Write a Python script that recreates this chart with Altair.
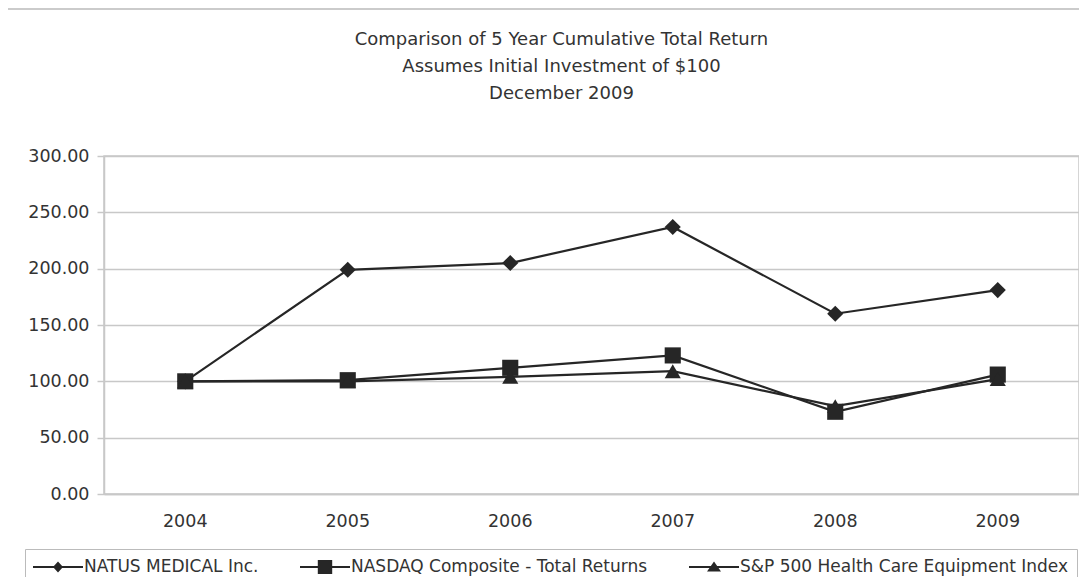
import altair as alt
import pandas as pd

years = ["2004", "2005", "2006", "2007", "2008", "2009"]
series_names = ["NATUS MEDICAL Inc.", "NASDAQ Composite - Total Returns", "S&P 500 Health Care Equipment Index"]
natus = [100, 199, 205, 237, 160, 181]
nasdaq = [100, 101, 112, 123, 73, 106]
sp500 = [100, 100, 104, 109, 78, 102]
y_ticks = [0, 50, 100, 150, 200, 250, 300]
title_lines = ["Comparison of 5 Year Cumulative Total Return",
               "Assumes Initial Investment of $100",
               "December 2009"]

rows = []
for name, vals in zip(series_names, [natus, nasdaq, sp500]):
    for yr, v in zip(years, vals):
        rows.append({"year": yr, "value": v, "series": name})
df = pd.DataFrame(rows)

FONT = "DejaVu Sans"
TXT = "#333333"
INK = "#262626"
GRID = "#c8c8c8"

x_enc = alt.X("year:O", bandPosition=0.5,
              scale=alt.Scale(type="band", paddingInner=0, paddingOuter=0),
              axis=alt.Axis(title=None, labelAngle=0, labelFont=FONT, labelFontSize=17.5,
                            labelColor=TXT, ticks=False, tickSize=0, grid=False,
                            domainColor=GRID, domainWidth=1.5, labelPadding=18))
y_enc = alt.Y("value:Q", scale=alt.Scale(domain=[0, 300], nice=False),
              axis=alt.Axis(title=None, values=y_ticks, format=".2f", labelFont=FONT,
                            labelFontSize=17.5, labelColor=TXT, tickSize=7, tickColor=GRID,
                            tickWidth=1.5, domainColor=GRID, domainWidth=1.5,
                            gridColor=GRID, gridWidth=1.5, labelPadding=8))

base = alt.Chart(df)

lines = base.mark_line(color=INK, strokeWidth=2.2).encode(x=x_enc, y=y_enc, detail="series:N")

points = base.mark_point(filled=True, color=INK, opacity=1, size=260).encode(
    x=x_enc, y=y_enc,
    shape=alt.Shape("series:N", scale=alt.Scale(domain=series_names,
                                                range=["diamond", "square", "triangle-up"]),
                    legend=None))

legend_paths = [
    "M-2.5,-0.1H2.5V0.1H-2.5ZM0,-0.55L0.5,0L0,0.55L-0.5,0Z",
    "M-2.5,-0.1H2.5V0.1H-2.5ZM-0.72,-0.7H0.72V0.7H-0.72Z",
    "M-2.5,-0.1H2.5V0.1H-2.5ZM0,-0.55L0.7,0.45L-0.7,0.45Z",
]
legend_layer = base.transform_filter("false").mark_point(filled=True, color=INK).encode(
    shape=alt.Shape("series:N", scale=alt.Scale(domain=series_names, range=legend_paths),
                    legend=alt.Legend(title=None, orient="none", legendX=-79, legendY=393,
                                      direction="horizontal", symbolSize=400,
                                      symbolStrokeWidth=0, symbolFillColor=INK,
                                      symbolOpacity=1, symbolOffset=15,
                                      labelFont=FONT, labelFontSize=17, labelColor=TXT,
                                      labelOffset=16, labelLimit=0, columnPadding=41,
                                      padding=8, strokeColor="#bbbbbb")))

frame = alt.Chart(alt.Data(values=[{}])).mark_rect(fillOpacity=0, stroke="#bbbbbb",
                                                   strokeWidth=1.5).encode(
    x=alt.value(-97), x2=alt.value(995), y=alt.value(-147), y2=alt.value(480))

chart = alt.layer(frame, lines, points, legend_layer).resolve_scale(
    shape="independent").resolve_legend(shape="independent").properties(
    width=975, height=338,
    title=alt.TitleParams(text=title_lines, font=FONT, fontSize=18, fontWeight="normal",
                          color=TXT, lineHeight=27, anchor="middle", offset=-95, dx=-30,
                          frame="group"),
    autosize=alt.AutoSizeParams(type="none"),
    padding={"left": 96, "top": 148, "right": 0, "bottom": 83},
).configure_view(stroke=GRID, strokeWidth=1.5)

chart.save("out.html", embed_options={"renderer": "svg", "actions": False})
